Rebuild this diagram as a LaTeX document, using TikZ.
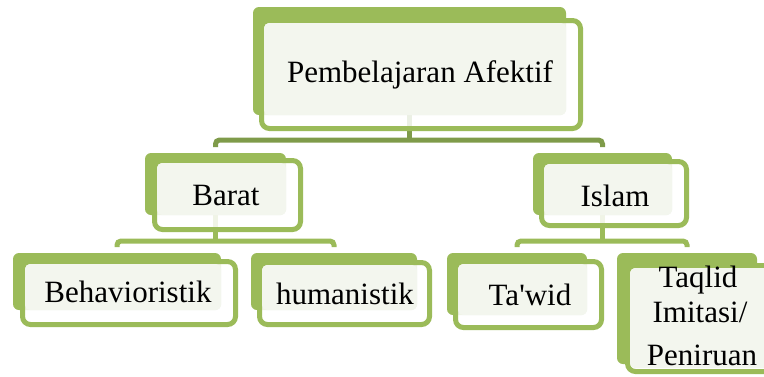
\documentclass[tikz,border=0pt]{standalone}
\usepackage{fontspec}
\setmainfont{Liberation Serif}[Ligatures=TeXOff]
\usepackage{tikz}
\usetikzlibrary{calc}
\definecolor{boxgreen}{HTML}{9BBB59}
\definecolor{linkgreen}{HTML}{7F9B4A}
\definecolor{boxlight}{HTML}{F3F6EE}
\tikzset{back box/.style={fill=boxgreen,rectangle,rounded corners=6pt,inner sep=0,outer sep=0},
  front box/.style={draw=boxgreen,line width=5pt,fill=white,fill opacity=0.85,rounded corners=8pt},
  light box/.style={fill=boxlight,rounded corners=5pt},
  box label/.style={anchor=base,inner sep=0,font=\fontsize{31}{31}\selectfont},
  top link/.style={draw=linkgreen,line width=5pt,rounded corners=4pt},
  sub link/.style={draw=boxgreen,line width=5pt,rounded corners=4pt}}

\begin{document}
\begin{tikzpicture}[x=1pt,y=-1pt]
          \useasboundingbox (0,0) rectangle (764,376);

          %つなぎ線
          \coordinate (jtop) at (409.5,140);
          \coordinate (jbarat) at (215.5,241);
          \coordinate (jislam) at (602.5,241);

          %Pembelajaran Afektifの箱
          \node[back box, minimum width=313pt, minimum height=108pt] (top) at (409.5,61) {};
          \node[back box, minimum width=141pt, minimum height=62pt] (barat) at (215.5,184) {};
          \node[back box, minimum width=139pt, minimum height=62pt] (islam) at (602.5,184) {};
          \node[back box, minimum width=208pt, minimum height=57pt] (behav) at (117,281.5) {};
          \node[back box, minimum width=166pt, minimum height=57pt] (human) at (334,281.5) {};
          \node[back box, minimum width=140pt, minimum height=62pt] (tawid) at (517,284) {};
          \node[back box, minimum width=140pt, minimum height=111pt] (taqlid) at (687,308.5) {};

          \draw[top link] (top.south) -- (jtop);
          \draw[top link] ([yshift=6pt]barat.north) |- (jtop) -| ([yshift=6pt]islam.north);
          \draw[sub link] (barat.south) -- (jbarat);
          \draw[sub link] ([yshift=6pt]behav.north) |- (jbarat) -| ([yshift=6pt]human.north);
          \draw[sub link] (islam.south) -- (jislam);
          \draw[sub link] ([yshift=6pt]tawid.north) |- (jislam) -| ([yshift=6pt]taqlid.north);

          %Pembelajaran Afektif
          \draw[front box] (261.5,20.5) rectangle (580.5,128.5);
          \fill[light box] (264,23) rectangle (566,115);
          \node[box label] (top-t) at (420,82) {Pembelajaran Afektif};

          %Barat
          \draw[front box] (154.5,160.5) rectangle (300.5,229.5);
          \fill[light box] (157,163) rectangle (286,215);
          \node[box label] (barat-t) at (226,205) {Barat};

          %Islam
          \draw[front box] (541.5,161.5) rectangle (686.5,225.5);
          \fill[light box] (544,164) rectangle (672,215);
          \node[box label] (islam-t) at (615,206) {Islam};

          %Behavioristik
          \draw[front box] (22.5,261.5) rectangle (235.5,324.5);
          \fill[light box] (25,264) rectangle (221,310);
          \node[box label] (behav-t) at (128,302) {Behavioristik};

          %humanistik
          \draw[front box] (259.5,262.5) rectangle (429.5,324.5);
          \fill[light box] (262,265) rectangle (417,310);
          \node[box label] (human-t) at (345,304) {humanistik};

          %Ta'wid
          \draw[front box] (455.5,261.5) rectangle (601.5,327.5);
          \fill[light box] (458,264) rectangle (587,315);
          \node[box label] (tawid-t) at (530,305) {Ta'wid};

          %Taqlid Imitasi/ Peniruan
          \draw[front box] (627.5,265.5) rectangle (772.5,371.5);
          \fill[light box] (630,268) rectangle (770,368);
          \node[box label] (taqlid-t1) at (698,287) {Taqlid};
          \node[box label] (taqlid-t2) at (700,322) {Imitasi/};
          \node[box label] (taqlid-t3) at (702,365) {Peniruan};

        \end{tikzpicture}
\end{document}
